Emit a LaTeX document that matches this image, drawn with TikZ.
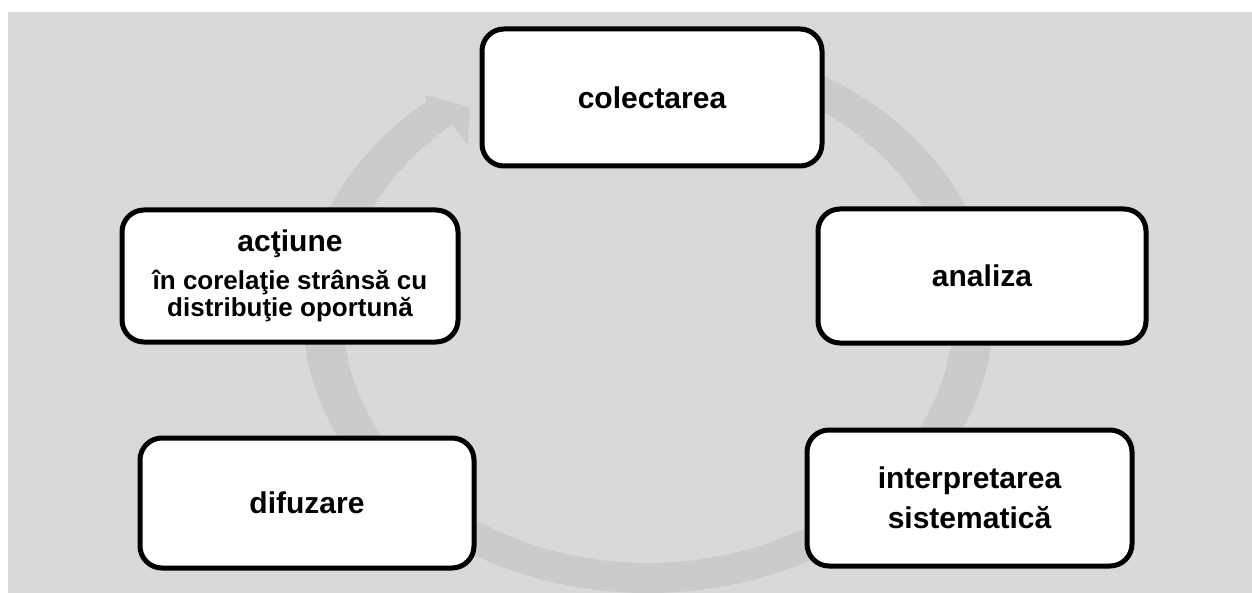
\documentclass[tikz,border=0pt]{standalone}
\usepackage{fontspec}
\setmainfont{Liberation Sans}
\usetikzlibrary{calc}
\definecolor{bgc}{HTML}{D9D9D9}
\definecolor{ringc}{HTML}{CBCBCB}
\newcommand{\subsz}{\fontsize{26}{25}\selectfont}
\tikzset{
  stepbox/.style={draw=black, line width=5pt, rounded corners=22pt, fill=white,
    align=center, inner sep=0pt, font=\fontsize{30}{40}\selectfont\bfseries},
}
\begin{document}
\begin{tikzpicture}[x=1pt,y=-1pt]
\useasboundingbox (0,0) rectangle (1252,593);
\fill[bgc] (8,12) rectangle (1252,593);
% circular arrow
\fill[ringc] (648,315) ++(-70:345 and 278) arc[start angle=-70, end angle=230, x radius=345, y radius=278]
  -- (425,95) -- (470,107) -- (468,145)
  -- ($(648,315)+(230:305 and 248)$) arc[start angle=230, end angle=-70, x radius=305, y radius=248] -- cycle;
% boxes
\node[stepbox, minimum width=340pt, minimum height=137pt] (col) at (652,97.5) {colectarea};
\node[stepbox, minimum width=328pt, minimum height=134pt] (ana) at (982,276) {analiza};
\node[stepbox, minimum width=325pt, minimum height=136pt] (int) at (969.5,498) {interpretarea\\sistematică};
\node[stepbox, minimum width=334pt, minimum height=130pt] (dif) at (307,503) {difuzare};
\node[stepbox, minimum width=336pt, minimum height=132pt, font=\fontsize{30}{25}\selectfont\bfseries] (act) at (290,276)
  {acţiune\\[11pt]\subsz în corelaţie strânsă cu\\[2pt]\subsz distribuţie oportună};
\end{tikzpicture}
\end{document}
